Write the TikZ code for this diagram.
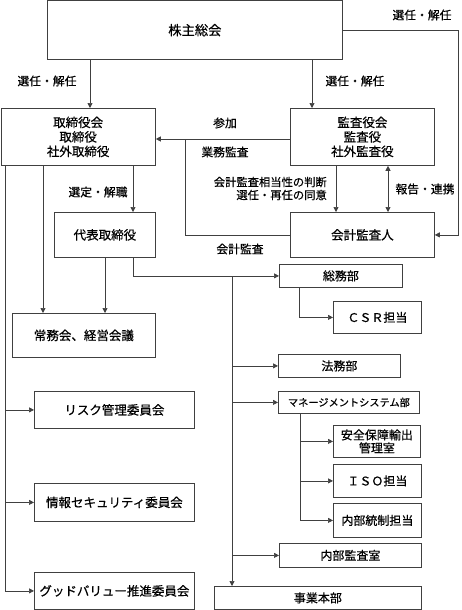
\documentclass[tikz,border=0pt]{standalone}
\usepackage{fontspec}
\setmainfont{Noto Sans CJK JP}[FakeBold=0.5]
\usetikzlibrary{arrows.meta}
\tikzset{
  box/.style={draw=black!75, line width=0.8pt, fill=white, inner sep=1pt, anchor=north west, align=center, font=\fontsize{12.5}{14.5}\selectfont},
  lbl/.style={inner sep=0pt, font=\fontsize{11.8}{13}\selectfont},
  con/.style={draw=black!75, line width=0.7pt},
  arr/.style={con, -{Triangle[length=5pt,width=5pt]}},
  darr/.style={con, {Triangle[length=5pt,width=5pt]}-{Triangle[length=5pt,width=5pt]}}
}
\begin{document}
\begin{tikzpicture}[x=1pt,y=-1pt]
\useasboundingbox (0,0) rectangle (462,610);
% boxes
\node[box, minimum width=295pt, minimum height=58.5pt, font=\fontsize{13.3}{15}\selectfont] (kabu) at (47,0.5) {株主総会};
\node[box, minimum width=154.5pt, minimum height=57pt] (tori) at (0.5,108) {取締役会\\取締役\\社外取締役};
\node[box, minimum width=144pt, minimum height=57pt] (kansa) at (290,108) {監査役会\\監査役\\社外監査役};
\node[box, minimum width=101pt, minimum height=45pt] (daihyo) at (54,212) {代表取締役};
\node[box, minimum width=144pt, minimum height=45pt] (kaikei) at (290,212) {会計監査人};
\node[box, minimum width=123pt, minimum height=23pt, font=\fontsize{12}{14}\selectfont] (somu) at (279,264) {総務部};
\node[box, minimum width=88pt, minimum height=32pt, font=\fontsize{12}{14}\selectfont] (csr) at (333,301) {ＣＳＲ担当};
\node[box, minimum width=143pt, minimum height=44pt] (jomu) at (12,313) {常務会、経営会議};
\node[box, minimum width=160pt, minimum height=37pt] (risk) at (34,391) {リスク管理委員会};
\node[box, minimum width=122pt, minimum height=23pt, font=\fontsize{12}{14}\selectfont] (homu) at (278,354) {法務部};
\node[box, minimum width=141pt, minimum height=22pt, font=\fontsize{10.2}{12}\selectfont] (ms) at (278,391) {マネージメントシステム部};
\node[box, minimum width=87pt, minimum height=32pt, font=\fontsize{12}{13}\selectfont] (anzen) at (333,425) {安全保障輸出\\管理室};
\node[box, minimum width=88pt, minimum height=33pt, font=\fontsize{12}{14}\selectfont] (iso) at (333,464) {ＩＳＯ担当};
\node[box, minimum width=88pt, minimum height=34pt, font=\fontsize{12}{14}\selectfont] (naibu) at (333,503) {内部統制担当};
\node[box, minimum width=142pt, minimum height=24pt, font=\fontsize{12}{14}\selectfont] (kshitsu) at (279,543) {内部監査室};
\node[box, minimum width=207pt, minimum height=23pt, font=\fontsize{12}{14}\selectfont] (jigyo) at (214,586) {事業本部};
\node[box, minimum width=160pt, minimum height=38pt] (joho) at (34,483) {情報セキュリティ委員会};
\node[box, minimum width=160pt, minimum height=37pt] (good) at (34,572) {グッドバリュー推進委員会};
% labels
\node[lbl] (l1) at (422,15) {選任・解任};
\node[lbl] (l2) at (47,81) {選任・解任};
\node[lbl] (l3) at (355,81) {選任・解任};
\node[lbl] (l4) at (225,123) {参加};
\node[lbl] (l5) at (225,152) {業務監査};
\node[lbl] (l6) at (240,249) {会計監査};
\node[lbl] (l7) at (98,192) {選定・解職};
\node[lbl, anchor=east, align=right, font=\fontsize{11.3}{13}\selectfont] (l8) at (327,188.5) {会計監査相当性の判断\\選任・再任の同意};
\node[lbl] (l9) at (425,189) {報告・連携};
% connectors
\draw[arr] (kabu.south -| 90,0) -- (tori.north -| 90,0);
\draw[arr] (kabu.south -| 312,0) -- (kansa.north -| 312,0);
\draw[arr] (kabu.east) -| ([xshift=24pt]kaikei.east) -- (kaikei.east);
\draw[arr] (kansa.west |- 0,139) -- (tori.east |- 0,139);
\coordinate (j1) at (185,139);
\draw[con] (j1) |- (kaikei.west);
\draw[arr] (tori.south -| 133,0) -- (daihyo.north -| 133,0);
\draw[arr] (kansa.south -| 336,0) -- (kaikei.north -| 336,0);
\draw[darr] (kansa.south -| 388,0) -- (kaikei.north -| 388,0);
% left trunk
\draw[arr] (tori.south -| 5,0) |- (good.west);
\draw[arr] (risk.west -| 5,0) -- (risk.west);
\draw[arr] (joho.west -| 5,0) -- (joho.west);
\draw[arr] (tori.south -| 43,0) -- (jomu.north -| 43,0);
\draw[arr] (daihyo.south -| 105,0) -- (jomu.north -| 105,0);
% right trunk
\draw[arr] (daihyo.south -| 133,0) |- (somu.west);
\coordinate (j2) at (232,276);
\draw[arr] (j2) -- (jigyo.north -| j2);
\draw[arr] (homu.west -| j2) -- (homu.west);
\draw[arr] (ms.west -| j2) -- (ms.west);
\draw[arr] (kshitsu.west -| j2) -- (kshitsu.west);
\draw[arr] (somu.south -| 299,0) |- (csr.west);
\draw[arr] (ms.south -| 300,0) |- (naibu.west);
\draw[arr] (anzen.west -| 300,0) -- (anzen.west);
\draw[arr] (iso.west -| 300,0) -- (iso.west);
\end{tikzpicture}
\end{document}
